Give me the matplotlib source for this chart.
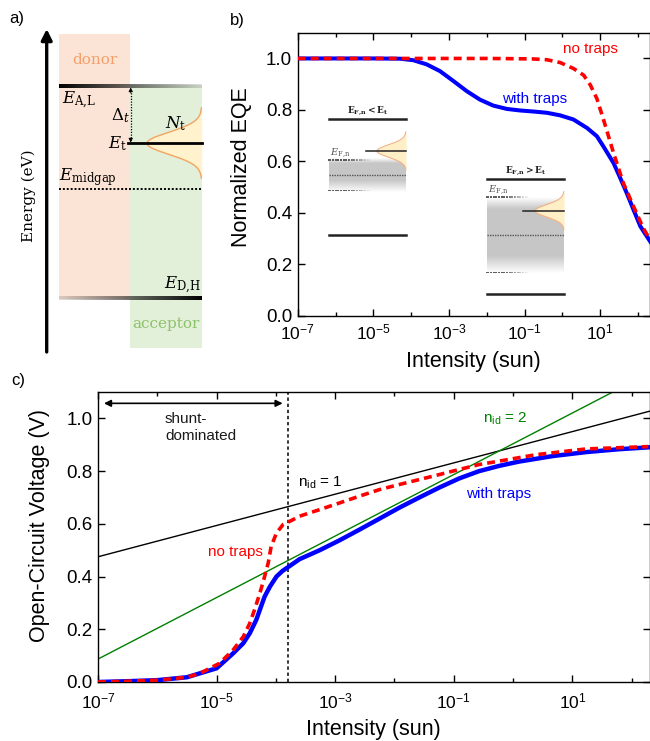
import numpy as np
import matplotlib
matplotlib.use('Agg')
import matplotlib.pyplot as plt
from matplotlib.ticker import FixedLocator, FuncFormatter

plt.rcParams['font.family'] = ['Liberation Sans', 'DejaVu Sans']

# ---------------- data ----------------
# panel b : normalized EQE vs intensity (log10 of intensity in suns)
b_logI_traps = [-7, -6, -5, -4.29, -3.94, -3.59, -3.24, -2.88, -2.53, -2.18, -1.83, -1.47,
                -1.12, -0.77, -0.41, -0.06, 0.29, 0.65, 0.91, 1.08, 1.35, 1.53, 1.70,
                1.88, 2.06, 2.32]
b_eqe_traps = [1.0, 1.0, 1.0, 0.999, 0.993, 0.977, 0.951, 0.912, 0.873, 0.840, 0.817, 0.804,
               0.798, 0.794, 0.789, 0.779, 0.763, 0.730, 0.698, 0.659, 0.594, 0.535, 0.477,
               0.412, 0.348, 0.289]
b_logI_notraps = [-7, -6, -5, -4, -3, -2, -1.2, -0.77, -0.41, -0.06, 0.29, 0.56, 0.74, 0.91,
                  1.09, 1.35, 1.61, 1.88, 2.14, 2.32]
b_eqe_notraps = [1.0, 1.0, 1.0, 1.0, 1.0, 1.0, 0.999, 0.998, 0.995, 0.984, 0.961, 0.935,
                 0.896, 0.844, 0.76, 0.633, 0.516, 0.425, 0.34, 0.295]

# panel c : open-circuit voltage vs intensity
c_logI_traps = [-7, -6.5, -6, -5.5, -5.28, -5.0, -4.72, -4.55, -4.44, -4.33, -4.27, -4.19,
                -4.10, -3.99, -3.89, -3.78, -3.60, -3.26, -2.93, -2.59, -2.25, -1.92, -1.58,
                -1.24, -0.91, -0.57, -0.23, 0.10, 0.67, 1.23, 1.79, 2.28]
c_voc_traps = [0.0, 0.003, 0.007, 0.018, 0.033, 0.052, 0.109, 0.147, 0.185, 0.236, 0.274,
               0.324, 0.362, 0.40, 0.421, 0.438, 0.466, 0.500, 0.537, 0.578, 0.620, 0.661,
               0.700, 0.738, 0.772, 0.800, 0.820, 0.836, 0.857, 0.872, 0.883, 0.890]
c_logI_notraps = [-7, -6.5, -6, -5.5, -5.28, -4.95, -4.72, -4.55, -4.44, -4.36, -4.27, -4.19,
                  -4.13, -4.08, -3.99, -3.88, -3.77, -3.60, -3.26, -2.93, -2.59, -2.25,
                  -1.92, -1.58, -1.24, -0.91, -0.57, -0.23, 0.10, 0.38, 1.23, 2.28]
c_voc_notraps = [0.0, 0.003, 0.007, 0.018, 0.033, 0.071, 0.122, 0.172, 0.223, 0.274, 0.337,
                 0.40, 0.451, 0.514, 0.565, 0.597, 0.609, 0.629, 0.654, 0.679, 0.705, 0.730,
                 0.749, 0.768, 0.787, 0.806, 0.825, 0.838, 0.851, 0.862, 0.884, 0.893]
nid1_logI = [-7, 2.3]
nid1_voc = [0.475, 1.027]
nid2_logI = [-7, 2.3]
nid2_voc = [0.087, 1.172]
shunt_limit = 1.6e-4
shunt_arrow = [1.26e-7, 1.3e-4]
shunt_arrow_y = 1.057

x_major = [1e-7, 1e-5, 1e-3, 1e-1, 1e1]
x_minor = [1e-6, 1e-4, 1e-2, 1e0, 1e2]
y_ticks = [0.0, 0.2, 0.4, 0.6, 0.8, 1.0]

BLUE = '#0000ff'
RED = '#ff0000'
GREEN = '#008000'

W, H = 650, 741
fig = plt.figure(figsize=(W / 100, H / 100), dpi=100)


def px_axes(l, t, r, b, **kw):
    return fig.add_axes([l / W, 1 - b / H, (r - l) / W, (b - t) / H], **kw)


def style_axes(ax, xpad):
    ax.set_xscale('log')
    ax.set_xlim(1e-7, 2e2)
    ax.set_ylim(0, 1.1)
    ax.xaxis.set_major_locator(FixedLocator(x_major))
    ax.xaxis.set_minor_locator(FixedLocator(x_minor))
    ax.xaxis.set_major_formatter(FuncFormatter(
        lambda v, p: r'$\mathregular{10^{%d}}$' % int(round(np.log10(v)))))
    ax.xaxis.set_minor_formatter(FuncFormatter(lambda v, p: ''))
    ax.yaxis.set_major_locator(FixedLocator(y_ticks))
    ax.yaxis.set_major_formatter(FuncFormatter(lambda v, p: '%.1f' % v))
    ax.tick_params(which='both', direction='in', top=True, right=True, width=1)
    ax.tick_params(which='major', length=5)
    ax.tick_params(which='minor', length=3)
    ax.tick_params(axis='x', labelsize=12.5, pad=xpad)
    ax.tick_params(axis='y', labelsize=13.5, pad=4)
    for s in ax.spines.values():
        s.set_linewidth(1)


# ---------------- panel b ----------------
axb = px_axes(297.7, 32.7, 649.5, 316)
style_axes(axb, 5)
axb.plot(10.0 ** np.array(b_logI_traps), b_eqe_traps, color=BLUE, lw=2.9, zorder=3)
axb.plot(10.0 ** np.array(b_logI_notraps), b_eqe_notraps, color=RED, lw=2.6,
         dashes=(2.2, 1.4), zorder=4)
axb.text(10 ** 0.02, 1.035, 'no traps', color=RED, fontsize=11, va='center', ha='left')
axb.text(10 ** -1.6, 0.844, 'with traps', color=BLUE, fontsize=11, va='center', ha='left')
axb.set_ylabel('Normalized EQE', fontsize=15.5)
axb.yaxis.label.set_verticalalignment('center')
axb.yaxis.set_label_coords((241 - 297.7) / 351.8, 0.5 + (174.3 - 167.5) / 283.3)
axb.set_xlabel('Intensity (sun)', fontsize=15.5)
axb.xaxis.label.set_verticalalignment('center')
axb.xaxis.set_label_coords(0.5, (316 - 361) / 283.3)

# ---------------- panel c ----------------
axc = px_axes(98, 392, 649.5, 682)
style_axes(axc, 7)
axc.plot(10.0 ** np.array(nid1_logI), nid1_voc, color='k', lw=1, zorder=2)
axc.plot(10.0 ** np.array(nid2_logI), nid2_voc, color=GREEN, lw=1, zorder=2)
axc.axvline(shunt_limit, color='k', lw=1.1, linestyle=(0, (2.2, 1.8)), zorder=2)
axc.plot(10.0 ** np.array(c_logI_traps), c_voc_traps, color=BLUE, lw=3.2, zorder=3)
axc.plot(10.0 ** np.array(c_logI_notraps), c_voc_notraps, color=RED, lw=2.6,
         dashes=(2.2, 1.4), zorder=4)
axc.annotate('', xy=(shunt_arrow[1], shunt_arrow_y), xytext=(shunt_arrow[0], shunt_arrow_y),
             arrowprops=dict(arrowstyle='<|-|>', lw=1.2, color='k', mutation_scale=10,
                             shrinkA=0, shrinkB=0))
axc.text(1.35e-6, 0.966, 'shunt-\ndominated', fontsize=11, va='center', ha='left',
         color='#1a1a1a', linespacing=1.25)
axc.text(10 ** -3.63, 0.757, r'n$_{\mathregular{id}}$ = 1', fontsize=11, va='center',
         ha='left', color='k')
axc.text(10 ** -0.50, 1.0, r'n$_{\mathregular{id}}$ = 2', fontsize=11, va='center',
         ha='left', color=GREEN)
axc.text(10 ** -5.15, 0.494, 'no traps', color=RED, fontsize=11, va='center', ha='left')
axc.text(10 ** -0.79, 0.715, 'with traps', color=BLUE, fontsize=11, va='center', ha='left')
axc.set_ylabel('Open-Circuit Voltage (V)', fontsize=15.5)
axc.yaxis.label.set_verticalalignment('center')
axc.yaxis.set_label_coords((40 - 98) / 551.5, 0.5 + (537 - 526) / 290)
axc.set_xlabel('Intensity (sun)', fontsize=15.5)
axc.xaxis.label.set_verticalalignment('center')
axc.xaxis.set_label_coords(0.5, (682 - 729) / 290)

# ---------------- overlay in pixel coordinates (schematics) ----------------
ov = fig.add_axes([0, 0, 1, 1], zorder=10)
ov.set_xlim(0, W)
ov.set_ylim(H, 0)
ov.axis('off')

SERIF = 'DejaVu Serif'
MF = 'dejavuserif'

# panel a: energy diagram
ov.add_patch(plt.Rectangle((59.3, 34), 130 - 59.3, 299 - 34, color='#fbe3d5', lw=0, zorder=1))
ov.add_patch(plt.Rectangle((130, 85), 201.7 - 130, 348 - 85, color='#e2efd9', lw=0, zorder=1))


def grad_bar(x0, x1, y, h, reverse=False):
    n = 200
    a = np.linspace(1.0, 0.12, n)
    if reverse:
        a = a[::-1]
    img = np.zeros((1, n, 4))
    img[..., 3] = a
    ov.imshow(img, extent=(x0, x1, y + h / 2, y - h / 2), aspect='auto', zorder=3,
              interpolation='bilinear')


grad_bar(59.3, 201.7, 86, 3.2)
grad_bar(59.3, 201.7, 298, 3.2, reverse=True)

# energy axis arrow
ov.annotate('', xy=(46.7, 29), xytext=(46.7, 352),
            arrowprops=dict(arrowstyle='-|>', lw=2.4, color='k', mutation_scale=16,
                            shrinkA=0, shrinkB=0), zorder=5)
ov.text(29, 196, 'Energy (eV)', rotation=90, fontsize=11, family=SERIF,
        ha='center', va='center')

# trap level + gaussian DOS
yy = np.linspace(108, 178, 200)
xx = 201.7 - 54.7 * np.exp(-(yy - 143.3) ** 2 / (2 * 11.0 ** 2))
ov.fill_betweenx(yy, xx, 201.7, color='#fff2cc', lw=0, zorder=2)
ov.plot(xx, yy, color='#f4a460', lw=1, zorder=3)
ov.plot([128, 201.7], [143.3, 143.3], color='k', lw=2, zorder=4)

# delta_t dotted arrow
ov.plot([130.7, 130.7], [90, 140], color='k', lw=0.9, linestyle=(0, (1, 1.2)), zorder=4)
for y0, y1 in [(93, 87.5), (138, 142.5)]:
    ov.annotate('', xy=(130.7, y1), xytext=(130.7, y0),
                arrowprops=dict(arrowstyle='-|>', lw=0.6, color='k', mutation_scale=6,
                                shrinkA=0, shrinkB=0), zorder=4)

# midgap
ov.plot([59.3, 201.7], [189, 189], color='k', lw=1.4, linestyle=(0, (1, 1)), zorder=4)

ov.text(95, 60, 'donor', color='#f4a06a', fontsize=11, family=SERIF, ha='center',
        va='center', zorder=5)
ov.text(166, 324, 'acceptor', color='#8cc26a', fontsize=11, family=SERIF, ha='center',
        va='center', zorder=5)
ov.text(62, 100, r'$E_{\mathrm{A{,}L}}$', fontsize=12, math_fontfamily=MF, ha='left',
        va='center', zorder=5)
ov.text(127, 144, r'$E_{\mathrm{t}}$', fontsize=12, math_fontfamily=MF, ha='right',
        va='center', zorder=5)
ov.text(120, 116, r'$\Delta_t$', fontsize=12, math_fontfamily=MF, ha='center',
        va='center', zorder=5)
ov.text(176, 124, r'$N_{\mathrm{t}}$', fontsize=12, math_fontfamily=MF, ha='center',
        va='center', zorder=5)
ov.text(59, 177, r'$E_{\mathrm{midgap}}$', fontsize=12, math_fontfamily=MF, ha='left',
        va='center', zorder=5)
ov.text(201, 285, r'$E_{\mathrm{D{,}H}}$', fontsize=12, math_fontfamily=MF, ha='right',
        va='center', zorder=5)


# insets in panel b
def fade_dots(x0, x1, y):
    xs = np.arange(x0, x1, 1.6)
    t = (xs - x0) / (x1 - x0)
    al = np.clip(1.6 * (1 - t), 0, 0.9)
    cols = [(0.3, 0.3, 0.3, a) for a in al]
    ov.scatter(xs, np.full(len(xs), y), s=0.9, c=cols, marker='s', linewidths=0, zorder=4)


def gray_band(x0, x1, y0, y1, fin, fout):
    n = 200
    ys = np.linspace(y0, y1, n)
    a = np.ones(n)
    a = np.minimum(a, np.clip((ys - y0) / fin, 0, 1))
    a = np.minimum(a, np.clip((y1 - ys) / fout, 0, 1))
    img = np.zeros((n, 1, 4))
    img[..., 0] = img[..., 1] = img[..., 2] = 0.78
    img[:, 0, 3] = a
    ov.imshow(img, extent=(x0, x1, y1, y0), aspect='auto', zorder=2,
              interpolation='bilinear')


def inset(x0, x1, ytop, ybot, yfn, ymid, ylow, ytrap, xtrap, band, title):
    ov.plot([x0, x1], [ytop, ytop], color='#222222', lw=1.8, zorder=4)
    ov.plot([x0, x1], [ybot, ybot], color='#222222', lw=1.8, zorder=4)
    ov.text((x0 + x1) / 2, ytop - 8.5, title, fontsize=6.5, math_fontfamily=MF,
            ha='center', va='center', zorder=5, color='#222222')
    ov.text(x0 + 0.5, yfn - 7, r'$E_{\mathrm{F{,}n}}$', fontsize=7, math_fontfamily=MF,
            ha='left', va='center', color='#555555', zorder=5)
    gray_band(x0, x1, band[0], band[1], band[2], band[3])
    fade_dots(x0, x0 + 0.55 * (x1 - x0), yfn)
    fade_dots(x0, x0 + 0.55 * (x1 - x0), ylow)
    ov.plot([x0, x1], [ymid, ymid], color='#555555', lw=1.0, linestyle=(0, (1, 0.8)),
            zorder=4)
    gy = np.linspace(ytrap - 19, ytrap + 19, 120)
    gx = x1 - 29 * np.exp(-(gy - ytrap) ** 2 / (2 * 6.2 ** 2))
    ov.fill_betweenx(gy, gx, x1, color='#ffefc6', lw=0, zorder=3)
    ov.plot(gx, gy, color='#f4b183', lw=0.8, zorder=4)
    ov.plot([xtrap, x1], [ytrap, ytrap], color='#222222', lw=1.1, zorder=5)


inset(329, 406, 119, 235, 160, 175, 190.7, 151, 366, (158, 192, 5, 12),
      r'$\mathbf{E_{F{,}n} < E_{t}}$')
inset(487, 564, 179, 294, 197, 235, 272.7, 210.7, 523, (197, 273, 12, 17),
      r'$\mathbf{E_{F{,}n} > E_{t}}$')

# panel letters
fig.text(17 / W, 1 - 19 / H, 'a)', fontsize=12, ha='center', va='center')
fig.text(237 / W, 1 - 21 / H, 'b)', fontsize=12, ha='center', va='center')
fig.text(18 / W, 1 - 381 / H, 'c)', fontsize=12, ha='center', va='center')

fig.savefig('out.png', dpi=100)
